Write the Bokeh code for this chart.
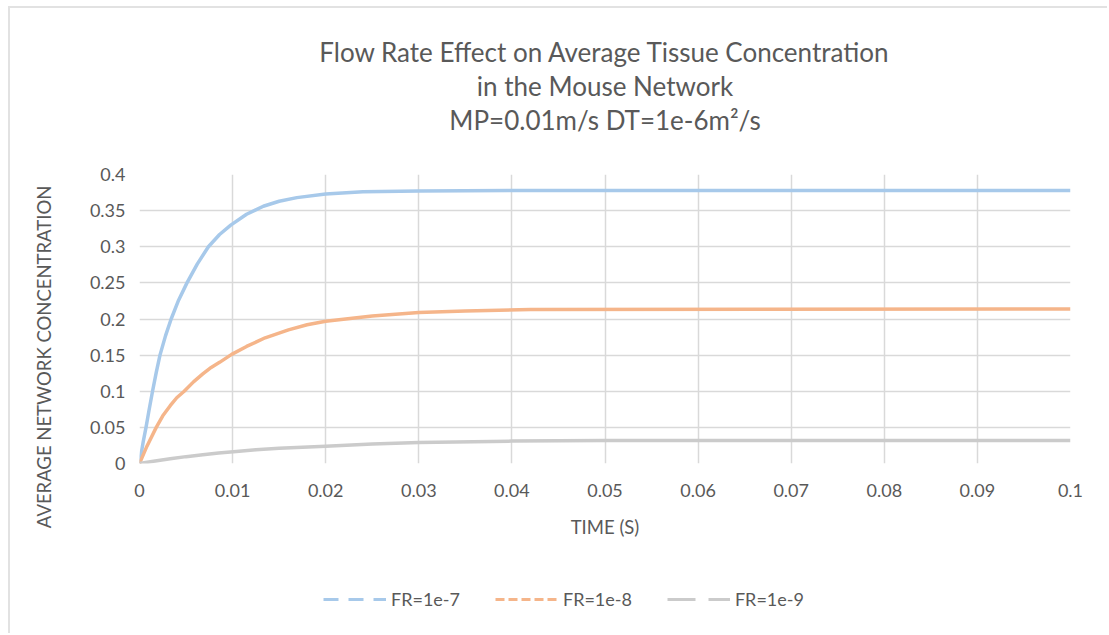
from bokeh.plotting import figure
from bokeh.layouts import column
from bokeh.models import Range1d, FixedTicker, Legend, LegendItem, Title
from bokeh.embed import file_html
from bokeh.resources import INLINE

# ---- data ----
t_fr7 = [0, 0.0004, 0.0007, 0.001, 0.0014, 0.0018, 0.0022, 0.0028, 0.0034, 0.0042, 0.0051,
         0.0062, 0.0074, 0.0086, 0.0098, 0.0115, 0.0133, 0.015, 0.0169, 0.020, 0.024,
         0.030, 0.040, 0.100]
c_fr7 = [0, 0.03, 0.05, 0.072, 0.10, 0.126, 0.15, 0.177, 0.20, 0.226, 0.25,
         0.276, 0.30, 0.317, 0.330, 0.345, 0.356, 0.363, 0.368, 0.373, 0.376,
         0.377, 0.378, 0.378]

t_fr8 = [0, 0.0008, 0.0018, 0.0025, 0.0033, 0.004, 0.0048, 0.0058, 0.0068, 0.0077, 0.0086,
         0.0099, 0.0115, 0.0135, 0.016, 0.018, 0.020, 0.025, 0.030, 0.035, 0.042, 0.100]
c_fr8 = [0, 0.024, 0.05, 0.066, 0.080, 0.091, 0.100, 0.113, 0.124, 0.133, 0.140,
         0.151, 0.162, 0.174, 0.185, 0.192, 0.197, 0.204, 0.209, 0.211, 0.213, 0.214]

t_fr9 = [0, 0.0015, 0.0033, 0.005, 0.0068, 0.0085, 0.0104, 0.0125, 0.015, 0.020, 0.025,
         0.030, 0.040, 0.050, 0.100]
c_fr9 = [0, 0.003, 0.0065, 0.0095, 0.012, 0.0145, 0.0165, 0.019, 0.021, 0.024, 0.027,
         0.029, 0.031, 0.032, 0.032]

series_names = ["FR=1e-7", "FR=1e-8", "FR=1e-9"]
x_ticks = [0, 0.01, 0.02, 0.03, 0.04, 0.05, 0.06, 0.07, 0.08, 0.09, 0.1]
x_tick_labels = ["0", "0.01", "0.02", "0.03", "0.04", "0.05", "0.06", "0.07", "0.08", "0.09", "0.1"]
y_ticks = [0, 0.05, 0.1, 0.15, 0.2, 0.25, 0.3, 0.35, 0.4]
y_tick_labels = ["0", "0.05", "0.1", "0.15", "0.2", "0.25", "0.3", "0.35", "0.4"]
title_lines = ["Flow Rate Effect on Average Tissue Concentration",
               "in the Mouse Network",
               "MP=0.01m/s DT=1e-6m\u00b2/s"]
x_label = "TIME (S)"
y_label = "AVERAGE NETWORK CONCENTRATION"

FONT = "Lato"
TXT = "#595959"
GRID = "#d9d9d9"
colors = ["#a7c9ea", "#f5b58a", "#cbcbcb"]
dashes = ["15 10", "9 4", "28 13"]

W = 1097
p = figure(width=W, height=545, output_backend="svg", toolbar_location=None,
           x_range=Range1d(0, 0.1), y_range=Range1d(0, 0.4),
           min_border_left=129, min_border_right=37, min_border_top=166, min_border_bottom=90)
p.outline_line_color = None
p.background_fill_color = "white"
p.border_fill_color = "white"

for ax in (p.xaxis[0], p.yaxis[0]):
    ax.axis_line_color = None
    ax.major_tick_line_color = None
    ax.minor_tick_line_color = None
    ax.major_label_text_font = FONT
    ax.major_label_text_font_size = "18px"
    ax.major_label_text_color = TXT
    ax.axis_label_text_font = FONT
    ax.axis_label_text_font_size = "18.5px"
    ax.axis_label_text_color = TXT
    ax.axis_label_text_font_style = "normal"

p.xaxis[0].ticker = FixedTicker(ticks=x_ticks)
p.xaxis[0].major_label_overrides = {v: s for v, s in zip(x_ticks, x_tick_labels)}
p.xaxis[0].major_label_standoff = 14
p.xaxis[0].axis_label = x_label
p.xaxis[0].axis_label_standoff = 16
p.yaxis[0].ticker = FixedTicker(ticks=y_ticks)
p.yaxis[0].major_label_overrides = {v: s for v, s in zip(y_ticks, y_tick_labels)}
p.yaxis[0].major_label_standoff = 8
p.yaxis[0].axis_label = y_label + "\u00a0" * 16
p.yaxis[0].axis_label_standoff = 32

p.xgrid.grid_line_color = GRID
p.ygrid.grid_line_color = GRID
p.xgrid.grid_line_width = 1.5
p.ygrid.grid_line_width = 1.5
p.xgrid.ticker = FixedTicker(ticks=x_ticks)
p.ygrid.ticker = FixedTicker(ticks=y_ticks)

data = [(t_fr7, c_fr7), (t_fr8, c_fr8), (t_fr9, c_fr9)]
for (tx, cy), col in zip(data, colors):
    p.line(tx, cy, line_color=col, line_width=3.5, line_join="round")

# spacer closest to the plot, then the title lines (first added sits closest)
p.add_layout(Title(text="\u00a0", text_font_size="1px", standoff=36), "above")
for line in reversed(title_lines):
    p.add_layout(Title(text=line, align="center", offset=-42, standoff=0,
                       text_font=FONT, text_font_size="26px", text_color=TXT,
                       text_font_style="normal"), "above")

# legend strip below the chart (series drawn off-view, legend shows their styles)
lg = figure(width=W, height=80, output_backend="svg", toolbar_location=None,
            x_range=Range1d(1, 2), y_range=Range1d(1, 2),
            min_border_left=0, min_border_right=0, min_border_top=0, min_border_bottom=0)
lg.axis.visible = False
lg.grid.visible = False
lg.outline_line_color = None
lg.border_fill_color = "white"
items = []
for (tx, cy), col, dsh, name in zip(data, colors, dashes, series_names):
    r = lg.line(tx, cy, line_color=col, line_width=3, line_dash=dsh)
    items.append(LegendItem(label=name, renderers=[r]))
legend = Legend(items=items, orientation="horizontal", location=(184, 23),
                glyph_width=63, glyph_height=16, label_standoff=5, spacing=35,
                label_text_font=FONT, label_text_font_size="18px", label_text_color=TXT,
                border_line_color=None, background_fill_alpha=0, padding=4, margin=0)
lg.add_layout(legend, "center")

layout = column(p, lg, spacing=0)
layout.styles = {"margin-left": "8px", "margin-top": "6px",
                 "border-top": "2px solid #e2e2e2", "border-left": "2px solid #e2e2e2"}

open("out.html", "w").write(file_html(layout, INLINE))
